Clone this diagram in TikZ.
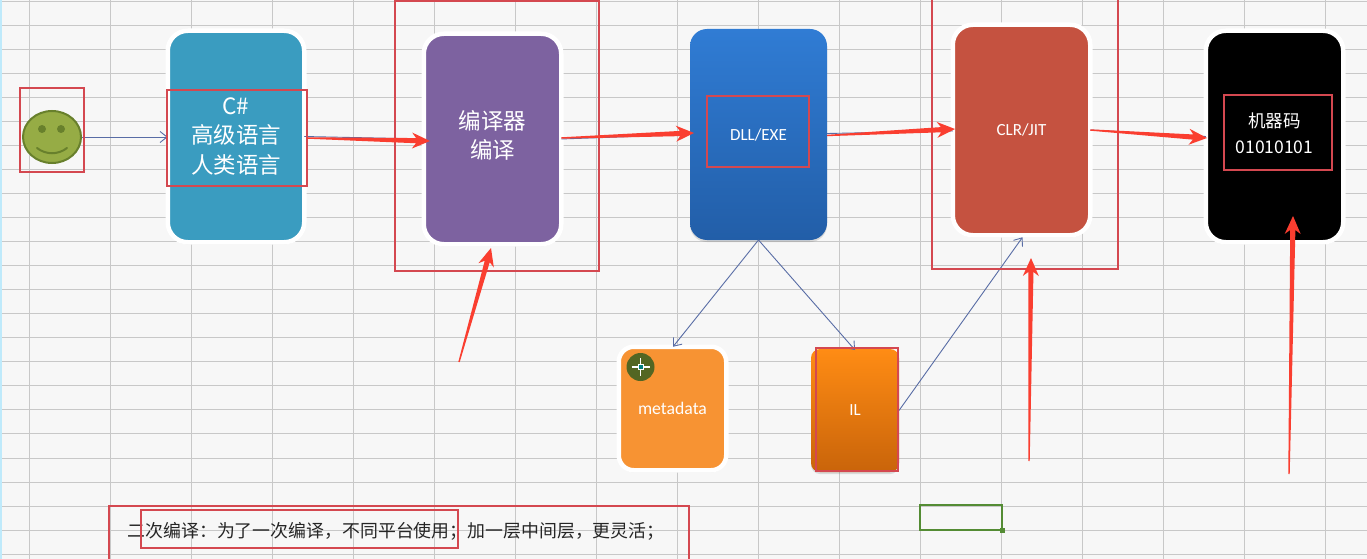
\documentclass[tikz,border=0pt]{standalone}
\usepackage{fontspec}
\usepackage{xcolor}
\usetikzlibrary{shapes.geometric, positioning, calc, shadows, arrows.meta}
\setmainfont{Carlito}
\newfontfamily\cjk{Noto Sans CJK SC}
\definecolor{sheetbg}{RGB}{247, 247, 247}
\definecolor{gridline}{RGB}{200, 200, 200}
\definecolor{markred}{RGB}{212, 72, 80}
\definecolor{headred}{RGB}{250, 62, 48}
\definecolor{linkblue}{RGB}{88, 108, 165}
\definecolor{tealbox}{RGB}{58, 156, 192}
\definecolor{purplebox}{RGB}{125, 98, 160}
\definecolor{dlltop}{RGB}{48, 124, 212}
\definecolor{dllbottom}{RGB}{34, 94, 168}
\definecolor{brickbox}{RGB}{197, 82, 64}
\definecolor{orangebox}{RGB}{247, 147, 51}
\definecolor{iltop}{RGB}{255, 140, 20}
\definecolor{ilbottom}{RGB}{201, 100, 10}
\definecolor{faceolive}{RGB}{150, 172, 69}
\definecolor{edgeolive}{RGB}{104, 128, 44}
\definecolor{cellgreen}{RGB}{84, 140, 52}
\newcommand{\redarrow}[2]{
  \coordinate (tail) at (#1);
  \coordinate (tip) at (#2);
  \fill[headred] ($(tail)!0.7pt!90:(tip)$) -- ($(tip)!14pt!(tail)!2.6pt!90:(tip)$) -- ($(tip)!18pt!(tail)!8pt!90:(tip)$) -- (tip)
    -- ($(tip)!18pt!(tail)!8pt!-90:(tip)$) -- ($(tip)!14pt!(tail)!2.6pt!-90:(tip)$) -- ($(tail)!0.7pt!-90:(tip)$) -- cycle;
}

\begin{document}
\begin{tikzpicture}[
    x=1pt, y=-1pt,
    font=\cjk,
    card/.style={rectangle, draw=white, line width=4.5pt, rounded corners=20pt, text=white, align=center, outer sep=0pt, drop shadow={opacity=0.3, shadow xshift=0pt, shadow yshift=-2pt}},
    plain/.style={rectangle, rounded corners=17pt, text=white, align=center, outer sep=0pt, drop shadow={opacity=0.25, shadow xshift=0pt, shadow yshift=-2pt}},
    redbox/.style={rectangle, draw=markred, line width=1.1pt, inner sep=0pt, outer sep=0pt},
    link/.style={-{Straight Barb[length=7pt, width=11pt]}, linkblue, line width=0.9pt}
]
\useasboundingbox (0,0) rectangle (1367,559);
\fill[sheetbg] (0,0) rectangle (1367,559);

% sheet grid
\foreach \gx in {29,110,...,1326} \draw[gridline, line width=0.9pt] (\gx,0) -- (\gx,559);
\foreach \gy in {1,25.05,...,559} \draw[gridline, line width=0.9pt] (0,\gy) -- (1367,\gy);
\fill[cyan!25] (0,0) rectangle (1.5,559);

% boxes
\node[ellipse, draw=edgeolive, fill=faceolive, line width=2pt, minimum width=58pt, minimum height=52pt, inner sep=0pt] (smile) at (52,137) {};
\node[card, fill=tealbox, minimum width=136.5pt, minimum height=211.5pt, font=\cjk\fontsize{22.5}{29.5}\selectfont] (csharp) at (236,136.5) {C\#\\高级语言\\人类语言};
\node[card, fill=purplebox, minimum width=137.5pt, minimum height=210.5pt, text depth=8.6pt, font=\cjk\fontsize{22.5}{29}\selectfont] (compiler) at (492.5,139) {编译器\\编译};
\node[plain, top color=dlltop, bottom color=dllbottom, minimum width=137pt, minimum height=211pt, font=\fontsize{17}{20}\selectfont] (dll) at (758.5,134.5) {DLL/EXE};
\node[card, fill=brickbox, minimum width=137.5pt, minimum height=210.5pt, font=\fontsize{17}{20}\selectfont] (clr) at (1021.5,130) {CLR/JIT};
\node[card, fill=black, minimum width=137.5pt, minimum height=211.5pt, text depth=7.5pt, font=\cjk\fontsize{17.5}{26}\selectfont] (machine) at (1274.5,136.5) {机器码\\01010101};
\node[card, fill=orangebox, minimum width=107.5pt, minimum height=123.5pt, rounded corners=15pt, font=\fontsize{17.7}{20}\selectfont] (metadata) at (672.5,408.5) {metadata};
\node[plain, top color=iltop, bottom color=ilbottom, minimum width=88pt, minimum height=123pt, rounded corners=9pt, font=\fontsize{17}{20}\selectfont] (il) at (855,410.5) {IL};

% smile face
\fill[edgeolive] (42,129) circle (4pt) (61,129) circle (4pt);
\coordinate (smileleft) at (37,148);
\coordinate (smileright) at (67,148);
\draw[edgeolive, line width=2pt, line cap=round] (smileleft) .. controls (46,155) and (58,155) .. (smileright);

% note and selected cell
\node[font=\cjk\fontsize{17.9}{20}\selectfont, text=black!85, inner sep=0pt] (note) at (396,531) {二次编译：为了一次编译，不同平台使用；加一层中间层，更灵活；};
\node[rectangle, draw=cellgreen, line width=2.6pt, minimum width=82pt, minimum height=25pt, inner sep=0pt, outer sep=0pt] (cell) at (961,517.5) {};
\fill[cellgreen] (cell.south east) ++(-2.5,-2.5) rectangle ++(5,5);

% thin links
\draw[link] (smile.east) -- (csharp.west |- smile.east);
\draw[linkblue, line width=0.9pt] (csharp.east) -- (compiler.west);
\draw[linkblue, line width=0.9pt] (compiler.east) -- (dll.west);
\draw[linkblue, line width=0.9pt] ([yshift=1pt]dll.east) -- ([yshift=-1pt]clr.west);
\draw[linkblue, line width=0.9pt] (clr.east) -- (machine.west);
\draw[link] (dll.south) -- ([xshift=0.5pt]metadata.north);
\draw[link] (dll.south) -- ([yshift=-1pt]il.north);
\draw[link] (il.east) -- ([xshift=1pt,yshift=-2pt]clr.south);

% red frames
\node[redbox, minimum width=64pt, minimum height=84pt] (smileframe) at (52,130) {};
\node[redbox, minimum width=140pt, minimum height=96pt] (csharpframe) at (237,138) {};
\node[redbox, minimum width=204pt, minimum height=270pt] (compilerframe) at (497,136) {};
\node[redbox, minimum width=102pt, minimum height=71pt] (dllframe) at (758,131.5) {};
\node[redbox, minimum width=186pt, minimum height=270pt] (clrframe) at (1025,134) {};
\node[redbox, minimum width=108pt, minimum height=75pt] (machineframe) at (1278,132.5) {};
\node[redbox, minimum width=82pt, minimum height=123pt] (ilframe) at (857,409.5) {};
\node[redbox, minimum width=580pt, minimum height=56pt] (noteframe) at (399,534) {};
\node[redbox, minimum width=317pt, minimum height=38pt] (useframe) at (299.5,529) {};

% red arrows
\coordinate (compilertail) at (459,362);
\coordinate (clrtail) at (1029,461);
\coordinate (machinetail) at (1289,474);
\redarrow{csharpframe.east}{430,141}
\redarrow{[yshift=1pt]compiler.east}{694,133}
\redarrow{[yshift=-1pt]dll.east}{955,129}
\redarrow{clr.east}{1207,138}
\redarrow{compilertail}{491,248}
\redarrow{clrtail}{1031,258}
\redarrow{machinetail}{1293,216}

% cursor
\node[circle, fill=edgeolive!80!black, minimum size=28pt, inner sep=0pt] (cursor) at (640.5,367) {};
\draw[white, line width=1.2pt] (cursor.center) +(-9,0) -- +(9,0) +(0,-9) -- +(0,9);
\draw[white, fill=teal, line width=0.8pt] (cursor.center) +(-2.5,-2.5) rectangle +(2.5,2.5);
\end{tikzpicture}
\end{document}
